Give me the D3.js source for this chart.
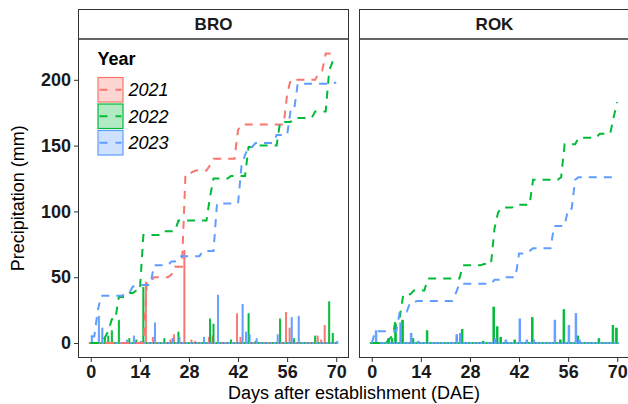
<!DOCTYPE html>
<html>
<head>
<meta charset="utf-8">
<script src="https://cdn.jsdelivr.net/npm/d3@7"></script>
<style>
  body { margin: 0; background: #fff; }
  svg { display: block; font-family: "Liberation Sans", Arial, sans-serif; }
</style>
</head>
<body>
<svg id="chart" width="628" height="404"></svg>
<script>
// daily precipitation (mm), as [day, value]; other days are 0
const sites = ['BRO', 'ROK'];
const years = ['2021', '2022', '2023'];
const yearColors = ['#F8766D', '#00BA38', '#619CFF'];
const xTicks = [0, 14, 28, 42, 56, 70];
const yTicks = [0, 50, 100, 150, 200];

const rainBro2021 = [[16,46],[18,4],[23,2],[24,6],[27,70],[29,2],[30,1],[34,4],[35,5],
  [42,22],[43,4],[56,23],[57,11],[65,5],[66,2],[67,13]];
const rainBro2022 = [[4,4],[5,5],[6,9],[8,17],[11,3],[13,2],[15,42],[21,3],[25,8],[34,18],
  [35,14],[40,2],[45,22],[47,1],[54,18],[58,3],[64,5],[68,31],[69,7]];
const rainBro2023 = [[0,5],[2,20],[3,11],[10,2],[12,5],[14,1],[18,15],[23,3],[25,4],[32,4],
  [36,36],[43,29],[44,8],[45,6],[47,3],[53,6],[57,19],[59,20],[70,1]];
const rainRok2022 = [[5,3],[6,3],[7,14],[9,17],[12,3],[16,9],[26,10],[32,1],[35,27],[36,12],
  [37,4],[41,2],[46,19],[54,2],[55,25],[59,5],[65,3],[69,13],[70,11]];
const rainRok2023 = [[1,9],[8,15],[11,7],[13,1],[24,6],[25,7],[35,3],[38,2],[42,18],[44,2],
  [46,2],[52,17],[56,13],[58,22],[59,2]];

const days = d3.range(0, 71);

function makeSeries(year, pairs) {
  let m = new Map(pairs);
  let daily = days.map(d => m.get(d) || 0);
  let cum = Array.from(d3.cumsum(daily));
  return { year: year, color: yearColors[years.indexOf(year)],
    points: days.map((d, i) => ({ day: d, rain: daily[i], cum: cum[i] })) };
}

const panels = [
  { site: 'BRO', series: [makeSeries('2021', rainBro2021), makeSeries('2022', rainBro2022), makeSeries('2023', rainBro2023)] },
  { site: 'ROK', series: [makeSeries('2022', rainRok2022), makeSeries('2023', rainRok2023)] },
];

const svg = d3.select('#chart');
const panelW = 270;
const panelLefts = [78.5, 359.5];
const stripTop = 9.5, panelTop = 39, panelBottom = 357.5;

const y = d3.scaleLinear().domain([-11, 231]).range([panelBottom, panelTop]);

panels.forEach((p, pi) => {
  let left = panelLefts[pi];
  let x = d3.scaleLinear().domain([-3.5, 73.5]).range([left, left + panelW]);
  let g = svg.append('g');

  let clipId = 'clip' + pi;
  svg.append('clipPath').attr('id', clipId)
    .append('rect').attr('x', left).attr('y', panelTop).attr('width', panelW).attr('height', panelBottom - panelTop);

  // strip
  g.append('rect').attr('x', left).attr('y', stripTop).attr('width', panelW).attr('height', panelTop - stripTop)
    .attr('fill', '#fff').attr('stroke', '#333').attr('stroke-width', 1);
  g.append('text').attr('x', left + panelW / 2).attr('y', (stripTop + panelTop) / 2 + 6)
    .attr('text-anchor', 'middle').attr('font-weight', 'bold').attr('font-size', 17).attr('fill', '#1a1a1a')
    .text(p.site);

  let plot = g.append('g').attr('clip-path', `url(#${clipId})`);

  // bars, dodged by year
  let n = p.series.length;
  let bw = 0.9 / n;
  p.series.forEach((s, si) => {
    plot.append('g').selectAll('rect').data(s.points).join('rect')
      .attr('x', d => x(d.day - 0.45 + si * bw))
      .attr('width', x(bw) - x(0))
      .attr('y', d => y(d.rain) - 0.4)
      .attr('height', d => Math.max(y(0) - y(d.rain), 0) + 0.8)
      .attr('fill', s.color)
      .attr('stroke', s.color)
      .attr('stroke-width', 0.9);
  });

  // cumulative lines
  let line = d3.line().x(d => x(d.day)).y(d => y(d.cum));
  p.series.forEach(s => {
    plot.append('path').datum(s.points).attr('d', line)
      .attr('fill', 'none').attr('stroke', s.color).attr('stroke-width', 2)
      .attr('stroke-dasharray', '8,7');
  });

  // panel border
  g.append('rect').attr('x', left).attr('y', panelTop).attr('width', panelW).attr('height', panelBottom - panelTop)
    .attr('fill', 'none').attr('stroke', '#333').attr('stroke-width', 1);

  // x axis
  let xa = g.append('g').attr('transform', `translate(0,${panelBottom})`)
    .call(d3.axisBottom(x).tickValues(xTicks).tickSize(4.5).tickPadding(3));
  xa.select('.domain').remove();
  xa.selectAll('line').attr('stroke', '#333').attr('stroke-width', 1);
  xa.selectAll('text').attr('font-size', 18).attr('font-weight', 'bold').attr('fill', '#1a1a1a')
    .attr('font-family', '"Liberation Sans", Arial, sans-serif');

  if (pi === 0) {
    let ya = g.append('g').attr('transform', `translate(${left},0)`)
      .call(d3.axisLeft(y).tickValues(yTicks).tickSize(4.5).tickPadding(3));
    ya.select('.domain').remove();
    ya.selectAll('line').attr('stroke', '#333').attr('stroke-width', 1);
    ya.selectAll('text').attr('font-size', 18).attr('font-weight', 'bold').attr('fill', '#1a1a1a')
      .attr('font-family', '"Liberation Sans", Arial, sans-serif');
  }
});

// axis titles
svg.append('text').attr('x', (panelLefts[0] + panelLefts[1] + panelW) / 2).attr('y', 399)
  .attr('text-anchor', 'middle').attr('font-size', 18).attr('fill', '#000')
  .text('Days after establishment (DAE)');
svg.append('text').attr('transform', `translate(24,${(panelTop + panelBottom) / 2}) rotate(-90)`)
  .attr('text-anchor', 'middle').attr('font-size', 18).attr('fill', '#000')
  .text('Precipitation (mm)');

// legend
let lg = svg.append('g').attr('transform', 'translate(97.5,52)');
lg.append('text').attr('x', 0).attr('y', 13).attr('font-size', 18).attr('font-weight', 'bold').text('Year');
years.forEach((yr, i) => {
  let k = lg.append('g').attr('transform', `translate(0,${25 + i * 26.5})`);
  k.append('rect').attr('x', 0.5).attr('y', 0.5).attr('width', 25).attr('height', 24.5)
    .attr('fill', yearColors[i]).attr('fill-opacity', 0.3)
    .attr('stroke', yearColors[i]).attr('stroke-width', 1.2);
  k.append('line').attr('x1', 2).attr('x2', 24).attr('y1', 12.75).attr('y2', 12.75)
    .attr('stroke', yearColors[i]).attr('stroke-width', 2).attr('stroke-dasharray', '8,8');
  k.append('text').attr('x', 31).attr('y', 19).attr('font-size', 18).attr('font-style', 'italic').text(yr);
});
</script>
</body>
</html>
